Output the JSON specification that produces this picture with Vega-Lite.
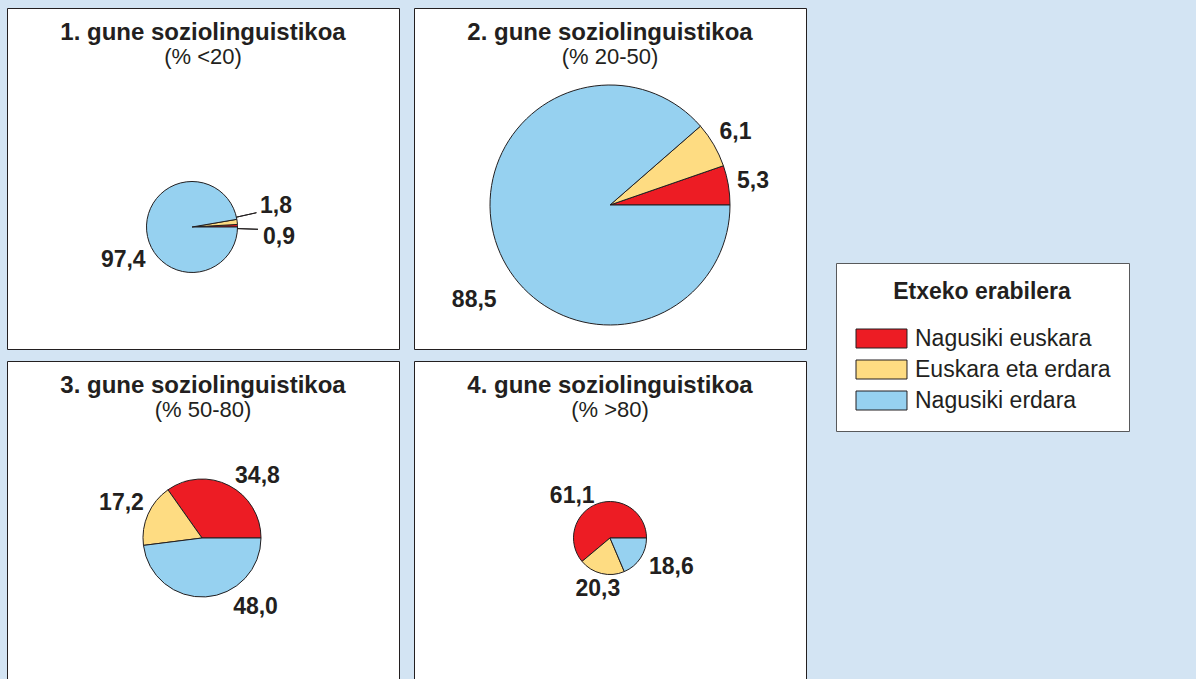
{
  "$schema": "https://vega.github.io/schema/vega-lite/v6.json",
  "background": "#d3e4f3",
  "padding": {"left": 6, "top": 7, "right": 90, "bottom": 0},
  "config": {
    "font": "Liberation Sans",
    "locale": {"number": {"decimal": ",", "thousands": ".", "grouping": [3], "currency": ["", " €"]}},
    "view": {"stroke": "#231f20", "strokeWidth": 1, "fill": "white"},
    "title": {
      "font": "Liberation Sans", "fontSize": 24, "fontWeight": "bold", "color": "#231f20",
      "subtitleFont": "Liberation Sans", "subtitleFontSize": 22, "subtitleColor": "#231f20",
      "subtitlePadding": 2, "offset": -60, "anchor": "middle"
    },
    "legend": {
      "orient": "none", "legendX": 829, "legendY": 255,
      "titleFont": "Liberation Sans", "titleFontSize": 23, "titleFontWeight": "bold",
      "titleColor": "#231f20", "titleAnchor": "middle", "titlePadding": 23,
      "labelFont": "Liberation Sans", "labelFontSize": 23, "labelColor": "#231f20", "labelOffset": 38, "labelLimit": 400,
      "symbolType": "M-1,-1H4.368V1H-1Z", "symbolSize": 361, "symbolStrokeColor": "#231f20",
      "symbolStrokeWidth": 1, "symbolOpacity": 1, "rowPadding": 7,
      "padding": 18, "strokeColor": "#58595b", "fillColor": "white"
    }
  },
  "datasets": {
    "d": [
      {"zone": 1, "cat": "Nagusiki euskara", "idx": 1, "value": 0.9},
      {"zone": 1, "cat": "Euskara eta erdara", "idx": 2, "value": 1.8},
      {"zone": 1, "cat": "Nagusiki erdara", "idx": 3, "value": 97.4},
      {"zone": 2, "cat": "Nagusiki euskara", "idx": 1, "value": 5.3},
      {"zone": 2, "cat": "Euskara eta erdara", "idx": 2, "value": 6.1},
      {"zone": 2, "cat": "Nagusiki erdara", "idx": 3, "value": 88.5},
      {"zone": 3, "cat": "Nagusiki euskara", "idx": 1, "value": 34.8},
      {"zone": 3, "cat": "Euskara eta erdara", "idx": 2, "value": 17.2},
      {"zone": 3, "cat": "Nagusiki erdara", "idx": 3, "value": 48.0},
      {"zone": 4, "cat": "Nagusiki euskara", "idx": 1, "value": 61.1},
      {"zone": 4, "cat": "Euskara eta erdara", "idx": 2, "value": 20.3},
      {"zone": 4, "cat": "Nagusiki erdara", "idx": 3, "value": 18.6}
    ]
  },
  "columns": 2,
  "spacing": {"row": 10, "column": 13},
  "concat": [
    {
      "width": 392, "height": 341,
      "view": {"stroke": "#231f20", "strokeWidth": 1, "fill": "white"},
      "title": {"text": "1. gune soziolinguistikoa", "subtitle": "(% <20)"},
      "data": {"name": "d"},
      "transform": [{"filter": "datum.zone == 1"}],
      "encoding": {
        "theta": {"field": "value", "type": "quantitative", "stack": true, "scale": {"range": [1.5708, 7.854]}},
        "color": {"field": "cat", "type": "nominal", "scale": {"domain": ["Nagusiki euskara", "Euskara eta erdara", "Nagusiki erdara"], "range": ["#ed1c24", "#fedc82", "#96d1f0"]}, "legend": {"title": "Etxeko erabilera"}},
        "order": {"field": "idx", "sort": "descending"}
      },
      "layer": [
        {"mark": {"type": "arc", "outerRadius": 45.5, "stroke": "#231f20", "strokeWidth": 1, "x": 185, "y": 219}},
        {"mark": {"type": "arc", "innerRadius": 45.5, "outerRadius": 66, "padAngle": 1, "strokeWidth": 1, "x": 185, "y": 219, "thetaOffset": -0.105, "theta2Offset": -0.105},
          "encoding": {"fill": {"value": "transparent"}, "stroke": {"condition": {"test": "datum.idx == 2", "value": "#231f20"}, "value": "transparent"}}},
        {"mark": {"type": "arc", "innerRadius": 45.5, "outerRadius": 66, "padAngle": 1, "strokeWidth": 1, "x": 185, "y": 219, "thetaOffset": 0.063, "theta2Offset": 0.063},
          "encoding": {"fill": {"value": "transparent"}, "stroke": {"condition": {"test": "datum.idx == 1", "value": "#231f20"}, "value": "transparent"}}},
        {"mark": {"type": "text", "radius": 74, "x": 185, "y": 219, "fontSize": 23, "fontWeight": "bold", "fill": "#231f20",
          "dx": {"expr": "datum.idx == 1 ? 13 : datum.idx == 2 ? 10.5 : 5"},
          "dy": {"expr": "datum.idx == 1 ? 12 : datum.idx == 2 ? -12.6 : 27"}},
          "encoding": {"text": {"field": "value", "type": "quantitative", "format": ".1f"}, "color": {"value": "#231f20"}}}
      ]
    },
    {
      "width": 392, "height": 341,
      "view": {"stroke": "#231f20", "strokeWidth": 1, "fill": "white"},
      "title": {"text": "2. gune soziolinguistikoa", "subtitle": "(% 20-50)"},
      "data": {"name": "d"},
      "transform": [{"filter": "datum.zone == 2"}],
      "encoding": {
        "theta": {"field": "value", "type": "quantitative", "stack": true, "scale": {"range": [1.5708, 7.854]}},
        "color": {"field": "cat", "type": "nominal", "scale": {"domain": ["Nagusiki euskara", "Euskara eta erdara", "Nagusiki erdara"], "range": ["#ed1c24", "#fedc82", "#96d1f0"]}, "legend": {"title": "Etxeko erabilera"}},
        "order": {"field": "idx", "sort": "descending"}
      },
      "layer": [
        {"mark": {"type": "arc", "outerRadius": 120, "stroke": "#231f20", "strokeWidth": 1, "x": 196, "y": 197}},
        {"mark": {"type": "text", "radius": 145, "x": 196, "y": 197, "fontSize": 23, "fontWeight": "bold", "fill": "#231f20",
          "dy": {"expr": "datum.idx == 3 ? 44 : 0"}},
          "encoding": {"text": {"field": "value", "type": "quantitative", "format": ".1f"}, "color": {"value": "#231f20"}}}
      ]
    },
    {
      "width": 392, "height": 341,
      "view": {"stroke": "#231f20", "strokeWidth": 1, "fill": "white"},
      "title": {"text": "3. gune soziolinguistikoa", "subtitle": "(% 50-80)"},
      "data": {"name": "d"},
      "transform": [{"filter": "datum.zone == 3"}],
      "encoding": {
        "theta": {"field": "value", "type": "quantitative", "stack": true, "scale": {"range": [1.5708, 7.854]}},
        "color": {"field": "cat", "type": "nominal", "scale": {"domain": ["Nagusiki euskara", "Euskara eta erdara", "Nagusiki erdara"], "range": ["#ed1c24", "#fedc82", "#96d1f0"]}, "legend": {"title": "Etxeko erabilera"}},
        "order": {"field": "idx", "sort": "descending"}
      },
      "layer": [
        {"mark": {"type": "arc", "outerRadius": 59, "stroke": "#231f20", "strokeWidth": 1, "x": 195, "y": 177}},
        {"mark": {"type": "text", "radius": 88, "x": 195, "y": 177, "fontSize": 23, "fontWeight": "bold", "fill": "#231f20",
          "dx": {"expr": "datum.idx == 1 ? 15 : datum.idx == 3 ? 48 : 0"},
          "dy": {"expr": "datum.idx == 1 ? 16 : datum.idx == 3 ? -19 : 0"}},
          "encoding": {"text": {"field": "value", "type": "quantitative", "format": ".1f"}, "color": {"value": "#231f20"}}}
      ]
    },
    {
      "width": 392, "height": 341,
      "view": {"stroke": "#231f20", "strokeWidth": 1, "fill": "white"},
      "title": {"text": "4. gune soziolinguistikoa", "subtitle": "(% >80)"},
      "data": {"name": "d"},
      "transform": [{"filter": "datum.zone == 4"}],
      "encoding": {
        "theta": {"field": "value", "type": "quantitative", "stack": true, "scale": {"range": [1.5708, 7.854]}},
        "color": {"field": "cat", "type": "nominal", "scale": {"domain": ["Nagusiki euskara", "Euskara eta erdara", "Nagusiki erdara"], "range": ["#ed1c24", "#fedc82", "#96d1f0"]}, "legend": {"title": "Etxeko erabilera"}},
        "order": {"field": "idx", "sort": "descending"}
      },
      "layer": [
        {"mark": {"type": "arc", "outerRadius": 36.5, "stroke": "#231f20", "strokeWidth": 1, "x": 196, "y": 177}},
        {"mark": {"type": "text", "radius": 52, "x": 196, "y": 177, "fontSize": 23, "fontWeight": "bold", "fill": "#231f20",
          "dx": {"expr": "datum.idx == 1 ? -20 : datum.idx == 3 ? 18 : 0"},
          "dy": {"expr": "datum.idx == 1 ? 7 : 0"}},
          "encoding": {"text": {"field": "value", "type": "quantitative", "format": ".1f"}, "color": {"value": "#231f20"}}}
      ]
    }
  ]
}
